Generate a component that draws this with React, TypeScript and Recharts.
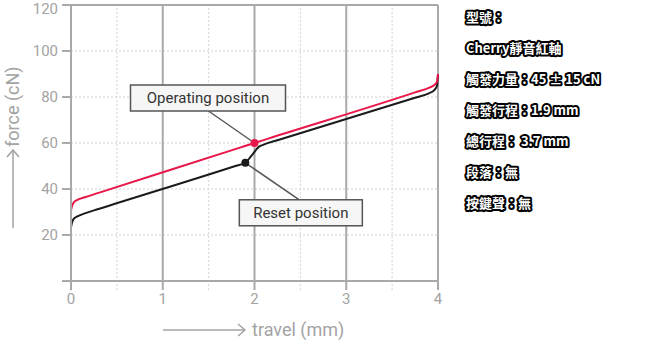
import React from 'react';
import { LineChart, Line, XAxis, YAxis, CartesianGrid, ReferenceLine, ReferenceDot } from 'recharts';

// force curve while pressing (operating) and while releasing (reset)
const pressTravel = [0, 0.01, 0.03, 0.07, 0.15, 0.3, 1.85, 2, 2.15, 3.75, 3.9, 3.96, 3.99, 4];
const pressForce = [30.6, 32.4, 34.2, 35.3, 36.4, 38.3, 58.1, 60, 61.9, 82, 84, 85.2, 86.8, 90];
const releaseTravel = [0, 0.01, 0.03, 0.07, 0.15, 0.3, 1.8, 1.9, 1.97, 2.05, 2.1, 2.25, 3.75, 3.9, 3.96, 3.99, 4];
const releaseForce = [23.3, 25.3, 27, 28.1, 29.4, 31.3, 50.1, 51.4, 54.6, 58.4, 59.3, 61.2, 79.7, 81.6, 83, 85, 90];

const operatingPoint = { travel: 2, force: 60 };
const resetPoint = { travel: 1.9, force: 51.4 };

const xTicks = [0, 1, 2, 3, 4];
const xMinor = [0.5, 1.5, 2.5, 3.5];
const yTicks = [0, 20, 40, 60, 80, 100, 120];

const specLines = [
  '型號：',
  'Cherry靜音紅軸',
  '觸發力量：45 ± 15 cN',
  '觸發行程：1.9 mm',
  '總行程： 3.7 mm',
  '段落：無',
  '按鍵聲：無',
];

const pressData = pressTravel.map((x, i) => ({ x, y: pressForce[i] }));
const releaseData = releaseTravel.map((x, i) => ({ x, y: releaseForce[i] }));

const FONT = 'Roboto, sans-serif';
const AXIS = '#a9a9a9';
const GRID = '#d2d2d2';
const TEXT = '#a3a3a3';
const RED = '#e8174a';

// callout box with a leader line pointing back at the dot
function callout(text: string, box: { dx: number; dy: number; w: number }, lead: { dx: number; dy: number }) {
  return (props: any) => {
    const vb = props.viewBox || {};
    const cx = vb.x + (vb.width || 0) / 2;
    const cy = vb.y + (vb.height || 0) / 2;
    const bx = cx + box.dx;
    const by = cy + box.dy;
    return (
      <g>
        <line x1={cx} y1={cy} x2={cx + lead.dx} y2={cy + lead.dy} stroke="#555" strokeWidth={1.5} />
        <rect x={bx} y={by} width={box.w} height={26} fill="#f6f6f6" stroke="#555" strokeWidth={1.5} />
        <text x={bx + box.w / 2} y={by + 18} textAnchor="middle" fontFamily={FONT} fontSize={15} fill="#333">
          {text}
        </text>
      </g>
    );
  };
}

function XTitle(props: any) {
  const vb = props.viewBox;
  const y = vb.y + 49;
  const x0 = 163;
  const x1 = 245;
  return (
    <g>
      <line x1={x0} y1={y} x2={x1} y2={y} stroke={TEXT} strokeWidth={1.5} />
      <polyline points={`${x1 - 7},${y - 6} ${x1},${y} ${x1 - 7},${y + 6}`} fill="none" stroke={TEXT} strokeWidth={1.5} />
      <text x={252} y={y + 6} fontFamily={FONT} fontSize={18} fill={TEXT}>travel (mm)</text>
    </g>
  );
}

function YTitle() {
  const x = 13;
  const y0 = 228;
  const y1 = 150;
  return (
    <g>
      <line x1={x} y1={y0} x2={x} y2={y1} stroke={TEXT} strokeWidth={1.5} />
      <polyline points={`${x - 6},${y1 + 7} ${x},${y1} ${x + 6},${y1 + 7}`} fill="none" stroke={TEXT} strokeWidth={1.5} />
      <text transform={`translate(${x + 6}, 147) rotate(-90)`} fontFamily={FONT} fontSize={18} fill={TEXT}>force (cN)</text>
    </g>
  );
}

export default function App() {
  return (
    <div style={{ position: 'absolute', left: 0, top: 0, width: 650, height: 340, background: '#fff' }}>
      <LineChart width={650} height={340} data={pressData} margin={{ top: 5, right: 212, bottom: 0, left: 0 }}>
        <CartesianGrid vertical={false} stroke={GRID} strokeDasharray="2 2" horizontalValues={[20, 40, 60, 80, 100]} />
        {xMinor.map((v) => (
          <ReferenceLine
            key={`minor-${v}`}
            segment={[{ x: v, y: -4 }, { x: v, y: 120 }]}
            ifOverflow="visible"
            stroke={GRID}
            strokeDasharray="2 2"
          />
        ))}
        {[1, 2, 3, 4].map((v) => (
          <ReferenceLine key={`major-${v}`} x={v} stroke={AXIS} strokeWidth={2} />
        ))}
        <ReferenceLine y={120} stroke={AXIS} strokeWidth={2} />
        <ReferenceLine segment={[{ x: 0, y: -4 }, { x: 0, y: 0 }]} ifOverflow="visible" stroke={AXIS} strokeWidth={2} />
        <XAxis
          type="number"
          dataKey="x"
          domain={[0, 4]}
          ticks={xTicks}
          height={59}
          tickSize={9}
          tickMargin={3}
          stroke={AXIS}
          strokeWidth={2}
          tick={{ fill: TEXT, fontSize: 15, fontFamily: FONT }}
          tickLine={{ stroke: AXIS, strokeWidth: 2 }}
          label={{ content: XTitle }}
        />
        <YAxis
          type="number"
          domain={[0, 120]}
          ticks={yTicks}
          width={71}
          tickSize={9}
          tickMargin={4}
          stroke={AXIS}
          strokeWidth={2}
          tickFormatter={(v: number) => (v === 0 ? '' : String(v))}
          tick={{ fill: TEXT, fontSize: 15, fontFamily: FONT }}
          tickLine={{ stroke: AXIS, strokeWidth: 2 }}
          label={{ content: YTitle }}
        />
        <Line data={releaseData} dataKey="y" type="monotone" stroke="#1b1b1b" strokeWidth={2} dot={false} isAnimationActive={false} />
        <Line data={pressData} dataKey="y" type="monotone" stroke={RED} strokeWidth={2} dot={false} isAnimationActive={false} />
        <ReferenceDot
          x={operatingPoint.travel}
          y={operatingPoint.force}
          r={0}
          fill="none"
          stroke="none"
          label={{ content: callout('Operating position', { dx: -124, dy: -58, w: 155 }, { dx: -46, dy: -32 }) }}
        />
        <ReferenceDot
          x={resetPoint.travel}
          y={resetPoint.force}
          r={0}
          fill="none"
          stroke="none"
          label={{ content: callout('Reset position', { dx: -6, dy: 37, w: 123 }, { dx: 54, dy: 37 }) }}
        />
        <ReferenceDot x={operatingPoint.travel} y={operatingPoint.force} r={4} fill={RED} stroke="none" />
        <ReferenceDot x={resetPoint.travel} y={resetPoint.force} r={4} fill="#1b1b1b" stroke="none" />
      </LineChart>
      <svg width={650} height={340} style={{ position: 'absolute', left: 0, top: 0, pointerEvents: 'none' }}>
        {specLines.map((s, i) => (
          <text
            key={s}
            x={466}
            y={22 + i * 31}
            fontFamily='"Noto Sans CJK TC", sans-serif'
            fontWeight={700}
            fontSize={13}
            fill="#fff"
            stroke="#000"
            strokeWidth={4}
            strokeLinejoin="round"
            paintOrder="stroke"
          >
            {s}
          </text>
        ))}
      </svg>
    </div>
  );
}
